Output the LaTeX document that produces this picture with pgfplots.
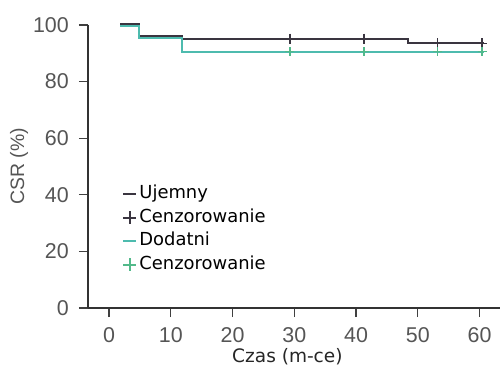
\documentclass[border=0pt]{standalone}
\usepackage{pgfplots}
\pgfplotsset{compat=1.18}
\usepackage{fontspec}
\setmainfont{DejaVu Sans}
\newfontfamily\tickfont{Liberation Sans}
\definecolor{darkline}{HTML}{3A3540}
\definecolor{tealline}{HTML}{4DBBAE}
\definecolor{tealmark}{HTML}{52B98A}
\definecolor{tickgray}{HTML}{555555}
\pgfplotsset{
  lineleg/.style={legend image code/.code={\draw[##1] (0bp,0bp) -- (13bp,0bp);}},
  markleg/.style={legend image code/.code={\draw[##1, mark size=6.5bp] plot coordinates {(6.5bp,0bp)};}},
}
\begin{document}
\begin{tikzpicture}
\begin{axis}[name=ax, scale only axis, width=412bp, height=283bp,
  xmin=-3.4, xmax=63.3, ymin=0, ymax=100,
  axis x line*=bottom, axis y line*=left,
  axis line style={line width=1.4bp, color=black!80, -},
  xtick={0,10,...,60}, ytick={0,20,...,100},
  tick align=outside, major tick length=9bp,
  tick style={line width=1.2bp, black!75},
  /pgf/number format/assume math mode=true,
  ticklabel style={font=\tickfont\fontsize{21.5}{22}\selectfont, text=tickgray},
  yticklabel style={inner sep=0pt, xshift=-10bp},
  xticklabel style={inner sep=0pt, yshift=-10bp},
  every axis y label/.style={at={(axis description cs:-0.1675,0.5)}, rotate=90, anchor=center,
     font=\tickfont\fontsize{19.5}{20}\selectfont, text=tickgray},
  every axis x label/.style={at={(axis description cs:0.484,-0.193)}, anchor=base,
     font=\fontsize{18.6}{20}\selectfont, text=black!85},
  ylabel={CSR (\%)}, xlabel={Czas (m-ce)},
  clip=false,
  legend style={at={(axis description cs:0.083,0.439)}, anchor=north west, draw=none, fill=none,
     font=\fontsize{18}{20}\selectfont, inner sep=0pt, row sep=2.5bp,
     nodes={inner sep=2bp, text height=13bp, text depth=4bp}},
  legend cell align=left,
]
\addplot[const plot, darkline, line width=2bp, lineleg]
  coordinates {(1.8,100.3) (4.9,96.2) (11.8,95.2) (48.4,93.5) (60.7,93.5)};
\addlegendentry{Ujemny}
\addplot[only marks, mark=+, darkline, mark size=5bp, line width=1.6bp, markleg]
  coordinates {(29.3,95.2) (41.3,95.2) (53.2,93.5) (60.4,93.5)};
\addlegendentry{Cenzorowanie}
\addplot[const plot, tealline, line width=2bp, lineleg]
  coordinates {(1.8,99.6) (4.9,95.3) (11.8,90.6) (60.7,90.6)};
\addlegendentry{Dodatni}
\addplot[only marks, mark=+, tealmark, mark size=4.5bp, line width=1.4bp, markleg]
  coordinates {(29.3,90.6) (41.3,90.6) (53.2,90.6) (60.4,90.6)};
\addlegendentry{Cenzorowanie}
\end{axis}
\pgfresetboundingbox
\path (ax.south west) ++(-88bp,-59bp) rectangle ++(500bp,367bp);
\end{tikzpicture}
\end{document}
